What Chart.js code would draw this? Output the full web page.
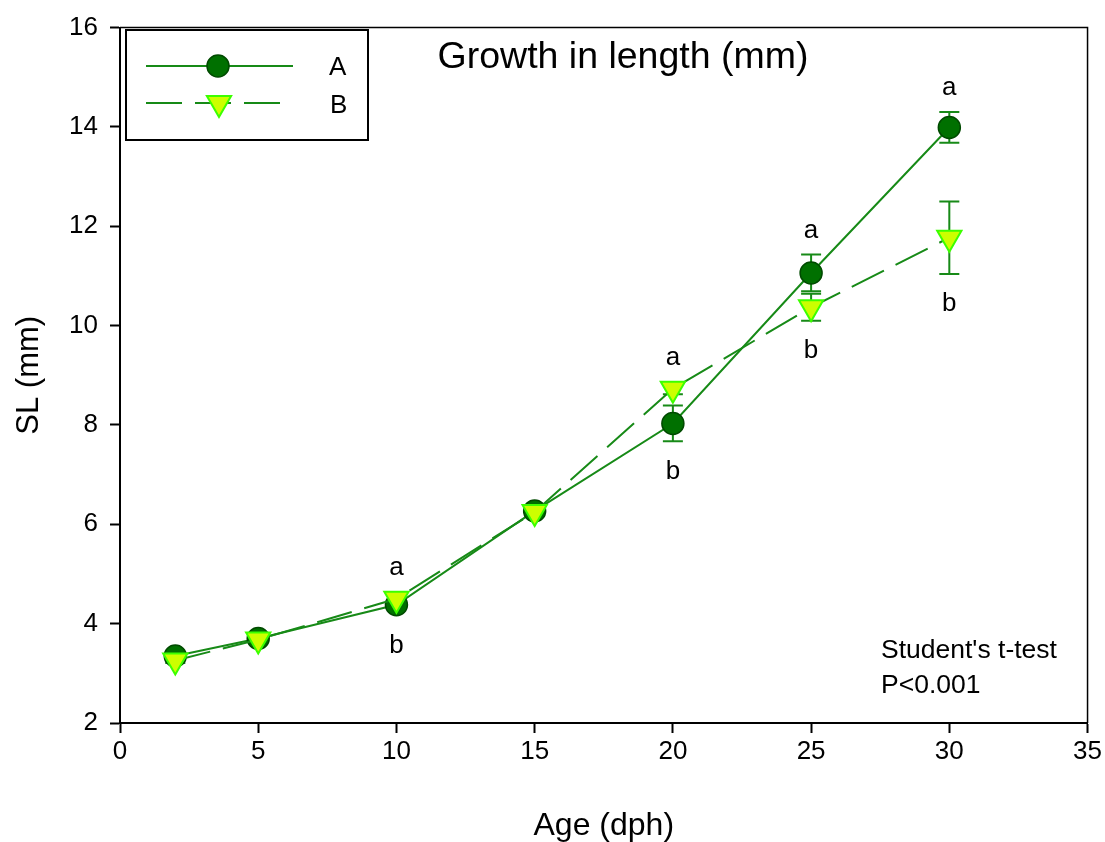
<!DOCTYPE html>
<html>
<head>
<meta charset="utf-8">
<title>Growth in length (mm)</title>
<script src="https://cdn.jsdelivr.net/npm/chart.js@4/dist/chart.umd.min.js"></script>
<style>
  html, body { margin: 0; padding: 0; background: #fff; }
  #wrap { width: 1105px; height: 842px; }
</style>
</head>
<body>
<div id="wrap"><canvas id="growth" width="1105" height="842"></canvas></div>
<script>
// Age (days post hatch) and standard length (mm), mean and error per group
const ages = [2, 5, 10, 15, 20, 25, 30];
const slA = [3.35, 3.70, 4.38, 6.27, 8.03, 11.06, 13.99];
const slB = [3.26, 3.68, 4.50, 6.25, 8.73, 10.37, 11.77];
const errA = [0.05, 0.05, 0.06, 0.08, 0.36, 0.37, 0.31];
const errB = [0.05, 0.05, 0.06, 0.08, 0.11, 0.27, 0.73];

// Significance letters at the ages where the groups differ
const sigAges = [10, 20, 25, 30];
const sigA = ['b', 'b', 'a', 'a'];
const sigB = ['a', 'a', 'b', 'b'];

// Axis ticks
const xTicks = [0, 5, 10, 15, 20, 25, 30, 35];
const yTicks = [2, 4, 6, 8, 10, 12, 14, 16];

const seriesNames = ['A', 'B'];
const chartTitle = 'Growth in length (mm)';
const statNote = ["Student's t-test", 'P<0.001'];

const FONT = '"Liberation Sans", Arial, Helvetica, sans-serif';
const LINE_GREEN = '#178a17';

const toPoints = (vals) => ages.map((a, i) => ({ x: a, y: vals[i] }));

// Error bars (with caps), drawn under the markers
const errorBars = {
  id: 'errorBars',
  beforeDatasetsDraw(chart) {
    const { ctx, scales: { x, y } } = chart;
    const sets = [[slA, errA], [slB, errB]];
    ctx.save();
    ctx.strokeStyle = LINE_GREEN;
    ctx.lineWidth = 2;
    sets.forEach(([vals, errs]) => {
      vals.forEach((v, i) => {
        const px = x.getPixelForValue(ages[i]);
        const top = y.getPixelForValue(v + errs[i]);
        const bot = y.getPixelForValue(v - errs[i]);
        ctx.beginPath();
        ctx.moveTo(px, top); ctx.lineTo(px, bot);
        ctx.moveTo(px - 10, top); ctx.lineTo(px + 10, top);
        ctx.moveTo(px - 10, bot); ctx.lineTo(px + 10, bot);
        ctx.stroke();
      });
    });
    ctx.restore();
  }
};

// Frame, title, legend box, significance letters and test note
const decorations = {
  id: 'decorations',
  afterDraw(chart) {
    const { ctx, chartArea: ca, scales: { x, y } } = chart;
    ctx.save();

    // plot frame (top and right edges)
    ctx.strokeStyle = '#000';
    ctx.lineWidth = 1.5;
    ctx.beginPath();
    ctx.moveTo(ca.left, ca.top); ctx.lineTo(ca.right, ca.top); ctx.lineTo(ca.right, ca.bottom);
    ctx.stroke();

    // title
    ctx.fillStyle = '#000';
    ctx.textAlign = 'center';
    ctx.textBaseline = 'alphabetic';
    ctx.font = '37.5px ' + FONT;
    ctx.fillText(chartTitle, 623, 68);

    // legend
    const dsA = chart.data.datasets[0];
    const dsB = chart.data.datasets[1];
    ctx.lineWidth = 2;
    ctx.strokeStyle = '#000';
    ctx.strokeRect(126, 30, 242, 110);

    ctx.strokeStyle = dsA.borderColor;
    ctx.lineWidth = dsA.borderWidth;
    ctx.setLineDash([]);
    ctx.beginPath(); ctx.moveTo(146, 66); ctx.lineTo(293, 66); ctx.stroke();
    ctx.fillStyle = dsA.pointBackgroundColor;
    ctx.strokeStyle = dsA.pointBorderColor;
    ctx.lineWidth = dsA.pointBorderWidth;
    Chart.helpers.drawPoint(ctx, { pointStyle: 'circle', radius: dsA.pointRadius, borderWidth: dsA.pointBorderWidth, rotation: 0 }, 218, 66);

    ctx.strokeStyle = dsB.borderColor;
    ctx.lineWidth = dsB.borderWidth;
    ctx.setLineDash(dsB.borderDash);
    ctx.beginPath(); ctx.moveTo(146, 103); ctx.lineTo(281, 103); ctx.stroke();
    ctx.setLineDash([]);
    ctx.fillStyle = dsB.pointBackgroundColor;
    ctx.strokeStyle = dsB.pointBorderColor;
    ctx.lineWidth = dsB.pointBorderWidth;
    Chart.helpers.drawPoint(ctx, { pointStyle: 'triangle', radius: dsB.pointRadius, borderWidth: dsB.pointBorderWidth, rotation: dsB.pointRotation }, 219, 103);

    ctx.fillStyle = '#000';
    ctx.font = '26px ' + FONT;
    ctx.textAlign = 'left';
    ctx.textBaseline = 'middle';
    ctx.fillText(seriesNames[0], 329, 68);
    ctx.fillText(seriesNames[1], 330, 106);

    // significance letters: above the higher group, below the lower one
    ctx.textAlign = 'center';
    ctx.textBaseline = 'middle';
    ctx.font = '26px ' + FONT;
    sigAges.forEach((age, k) => {
      const i = ages.indexOf(age);
      const px = x.getPixelForValue(age);
      const a = { v: slA[i], e: errA[i], half: 11, txt: sigA[k] };
      const b = { v: slB[i], e: errB[i], half: 7, txt: sigB[k] };
      const hi = a.v >= b.v ? a : b;
      const lo = a.v >= b.v ? b : a;
      const hiTop = Math.min(y.getPixelForValue(hi.v + hi.e), y.getPixelForValue(hi.v) - hi.half);
      const loBot = Math.max(y.getPixelForValue(lo.v - lo.e), y.getPixelForValue(lo.v) + (lo === a ? 11 : 14));
      ctx.fillText(hi.txt, px, hiTop - 24);
      ctx.fillText(lo.txt, px, loBot + 30);
    });

    // test note
    ctx.textAlign = 'left';
    ctx.textBaseline = 'alphabetic';
    ctx.font = '26.5px ' + FONT;
    ctx.fillText(statNote[0], 881, 658);
    ctx.fillText(statNote[1], 881, 693);

    ctx.restore();
  }
};

const axisGrid = {
  display: true,
  drawOnChartArea: false,
  drawTicks: true,
  tickLength: 10,
  tickWidth: 2,
  tickColor: '#000'
};

new Chart(document.getElementById('growth'), {
  type: 'line',
  data: {
    datasets: [
      {
        label: seriesNames[0],
        data: toPoints(slA),
        borderColor: LINE_GREEN,
        borderWidth: 2,
        pointStyle: 'circle',
        pointRadius: 11,
        pointHoverRadius: 11,
        pointBackgroundColor: '#007000',
        pointBorderColor: '#004a00',
        pointBorderWidth: 1.5,
        tension: 0,
        order: 1
      },
      {
        label: seriesNames[1],
        data: toPoints(slB),
        borderColor: LINE_GREEN,
        borderWidth: 2,
        borderDash: [36, 13],
        pointStyle: 'triangle',
        pointRotation: 180,
        pointRadius: 14,
        pointHoverRadius: 14,
        pointBackgroundColor: '#ccff00',
        pointBorderColor: '#3cff00',
        pointBorderWidth: 2,
        tension: 0,
        order: 0
      }
    ]
  },
  options: {
    responsive: false,
    animation: false,
    devicePixelRatio: 1,
    events: [],
    layout: { padding: { left: 0, right: 17, top: 24, bottom: 0 } },
    plugins: {
      legend: { display: false },
      tooltip: { enabled: false },
      title: { display: false }
    },
    scales: {
      x: {
        type: 'linear',
        min: 0,
        max: 35,
        afterFit(scale) { scale.height = 119; },
        afterBuildTicks(scale) { scale.ticks = xTicks.map(v => ({ value: v })); },
        grid: axisGrid,
        border: { display: true, color: '#000', width: 2 },
        ticks: { color: '#000', font: { family: FONT, size: 26 }, padding: 3, maxRotation: 0 },
        title: { display: true, text: 'Age (dph)', color: '#000', font: { family: FONT, size: 32, lineHeight: 1 }, padding: { top: 0, bottom: 0 } }
      },
      y: {
        type: 'linear',
        min: 2,
        max: 16,
        afterFit(scale) { scale.width = 120; },
        afterBuildTicks(scale) { scale.ticks = yTicks.map(v => ({ value: v })); },
        grid: axisGrid,
        border: { display: true, color: '#000', width: 2 },
        ticks: { color: '#000', font: { family: FONT, size: 26 }, padding: 12 },
        title: { display: true, text: 'SL (mm)', color: '#000', font: { family: FONT, size: 31, lineHeight: 1 }, padding: { top: 14, bottom: 0 } }
      }
    }
  },
  plugins: [errorBars, decorations]
});
</script>
</body>
</html>
